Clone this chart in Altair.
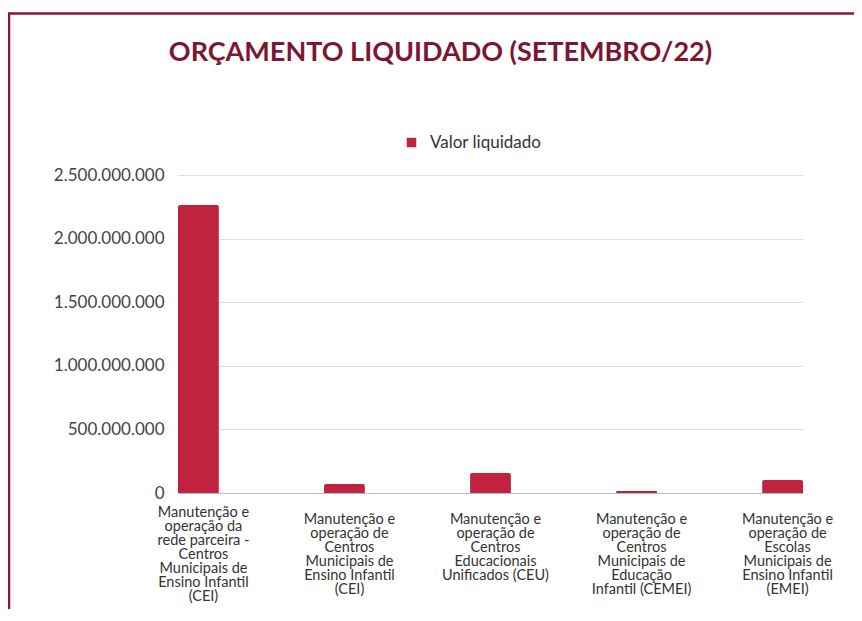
import altair as alt
import pandas as pd

categorias = [
    "Manutenção e\noperação da\nrede parceira -\nCentros\nMunicipais de\nEnsino Infantil\n(CEI)",
    "Manutenção e\noperação de\nCentros\nMunicipais de\nEnsino Infantil\n(CEI)",
    "Manutenção e\noperação de\nCentros\nEducacionais\nUnificados (CEU)",
    "Manutenção e\noperação de\nCentros\nMunicipais de\nEducação\nInfantil (CEMEI)",
    "Manutenção e\noperação de\nEscolas\nMunicipais de\nEnsino Infantil\n(EMEI)",
]
valores = [2264000000, 70000000, 157000000, 15000000, 102000000]
serie = ["Valor liquidado"] * len(categorias)
y_ticks = [0, 500000000, 1000000000, 1500000000, 2000000000, 2500000000]

df = pd.DataFrame({"categoria": categorias, "valor": valores, "serie": serie})

FONT = "Lato"
BAR = "#c1233f"
DARK = "#7d1631"

bars = alt.Chart(df).mark_bar(cornerRadiusTopLeft=2, cornerRadiusTopRight=2).encode(
    x=alt.X(
        "categoria:N",
        sort=None,
        title=None,
        scale=alt.Scale(paddingInner=0.72, paddingOuter=0),
        axis=alt.Axis(
            labelAngle=0,
            labelExpr="split(datum.label, '\\n')",
            labelFontSize=14.5,
            labelLineHeight=14,
            labelBaseline="top",
            labelPadding=alt.condition("indexof(datum.value, 'parceira') >= 0", alt.value(12), alt.value(19)),
            labelOffset=5,
            labelColor="#333333",
            labelFont=FONT,
            labelLimit=0,
            ticks=False,
            domain=True,
            domainColor="#bbbbbb",
            grid=False,
        ),
    ),
    y=alt.Y(
        "valor:Q",
        title=None,
        scale=alt.Scale(domain=[0, 2500000000], nice=False),
        axis=alt.Axis(
            values=y_ticks,
            labelExpr="replace(format(datum.value, ','), regexp(',', 'g'), '.')",
            labelFontSize=17,
            labelFont=FONT,
            labelColor="#444444",
            labelPadding=14,
            ticks=False,
            domain=False,
            grid=True,
            gridColor="#dddddd",
        ),
    ),
    color=alt.Color(
        "serie:N",
        scale=alt.Scale(range=[BAR]),
        legend=alt.Legend(
            title=None,
            orient="none",
            legendX=225,
            legendY=-41,
            symbolType="square",
            symbolSize=90,
            symbolStrokeWidth=0,
            labelOffset=10,
            labelFontSize=17,
            labelFont=FONT,
            labelColor="#333333",
            padding=0,
        ),
    ),
)

frame = pd.DataFrame({"k": [0]})
top_border = alt.Chart(frame).mark_rule(color="#8a1533", strokeWidth=2.5).encode(
    x=alt.value(-170), x2=alt.value(680), y=alt.value(-161.5)
)
left_border = alt.Chart(frame).mark_rule(color="#8a1533", strokeWidth=2.5).encode(
    x=alt.value(-169), y=alt.value(-162), y2=alt.value(460)
)

chart = alt.layer(bars, top_border, left_border).properties(
    width=625,
    height=318,
    autosize=alt.AutoSizeParams(type="none"),
    padding={"left": 170, "top": 167, "right": 51, "bottom": 116},
    title=alt.TitleParams(
        "ORÇAMENTO LIQUIDADO (SETEMBRO/22)",
        font=FONT,
        fontSize=27,
        fontWeight="bold",
        color=DARK,
        anchor="middle",
        frame="group",
        dx=-50,
        dy=55,
        offset=0,
    ),
).configure_view(stroke=None)

chart.save("out.html", embed_options={"renderer": "svg", "actions": False})
